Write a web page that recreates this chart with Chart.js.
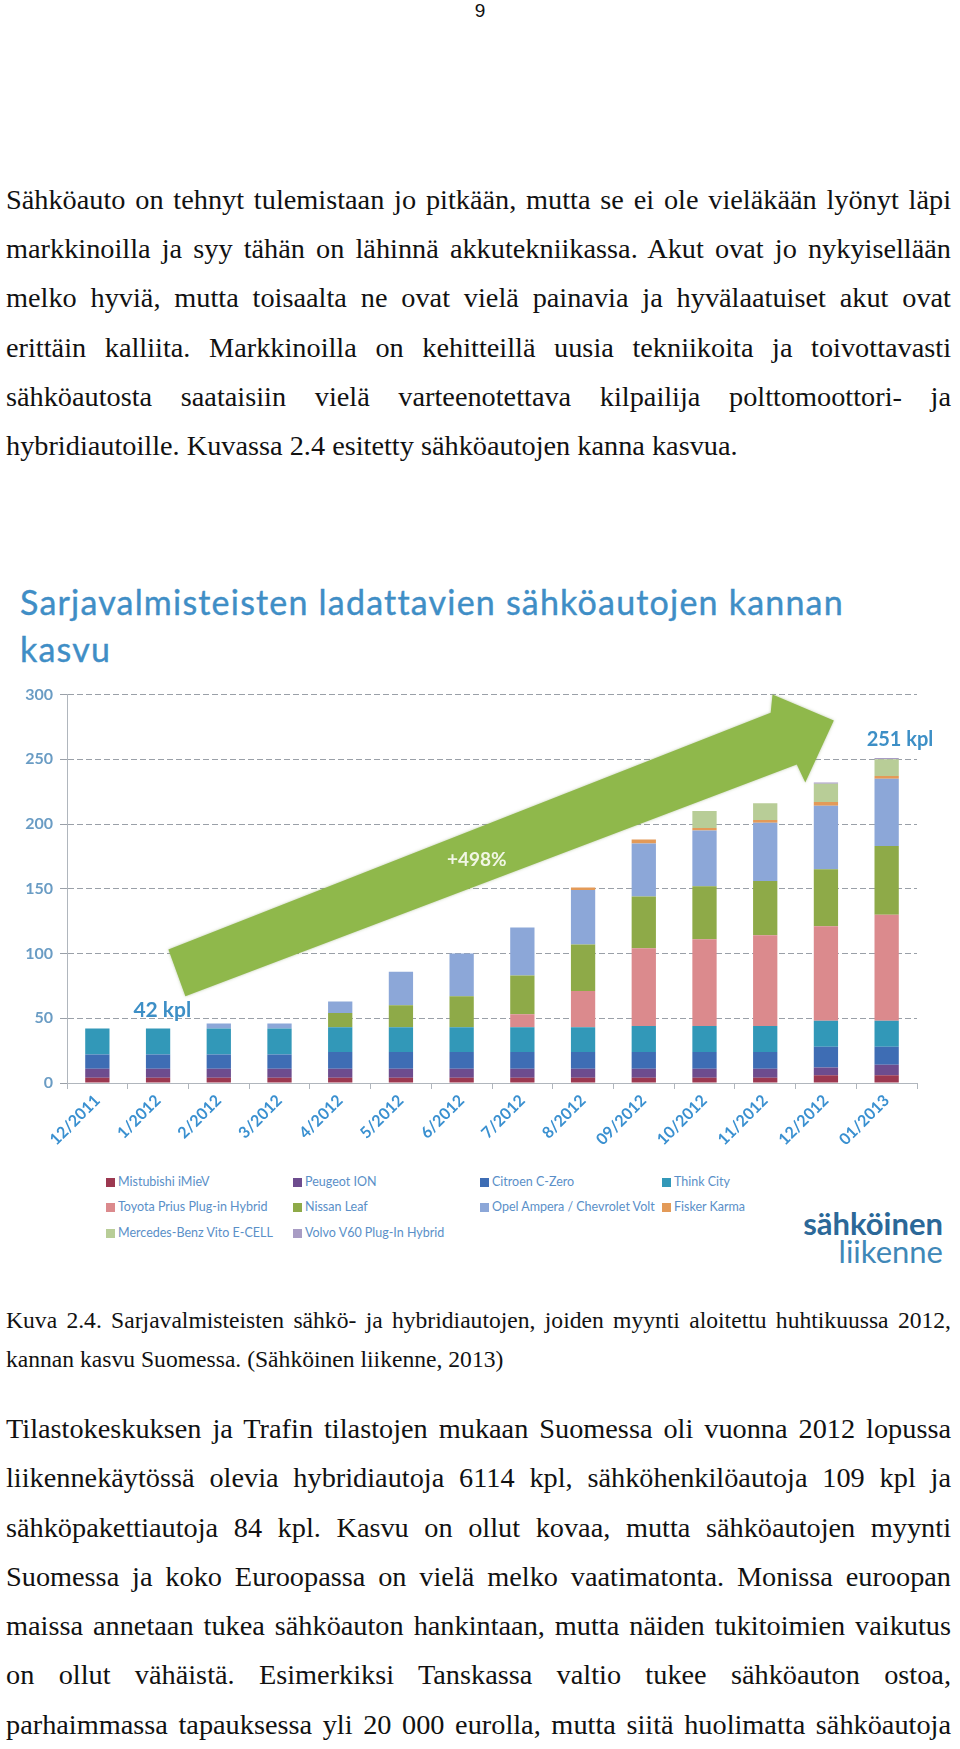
<!DOCTYPE html>
<html lang="fi">
<head>
<meta charset="utf-8">
<script src="https://cdn.jsdelivr.net/npm/chart.js@4.4.1/dist/chart.umd.min.js"></script>
<style>
  body { margin:0; background:#fff; width:960px; height:1749px; position:relative; overflow:hidden; }
  .page { position:absolute; left:0; top:0; width:960px; height:1749px; }
  .pno { position:absolute; top:0; left:0; width:960px; text-align:center; font-family:"Liberation Sans", sans-serif; font-size:19px; color:#111; }
  .txt { position:absolute; left:6px; width:945px; font-family:"Liberation Serif", serif; color:#111; }
  .txt div { text-align:justify; text-align-last:justify; }
  .txt div.last { text-align-last:left; }
  .p1 { top:175px; font-size:28.3px; line-height:49.2px; }
  .cap { top:1301px; font-size:23.6px; line-height:39px; }
  .p2 { top:1404px; font-size:28.3px; line-height:49.3px; }
  .ctitle { position:absolute; left:20px; top:578px; font-family:Lato, sans-serif; font-size:34px; letter-spacing:1.2px; line-height:47px; color:#3f8ec6; -webkit-text-stroke:0.4px #3f8ec6; }
  #wrap { position:absolute; left:0; top:670px; width:960px; height:500px; }
  #legend { position:absolute; left:0; top:1170px; width:960px; height:80px; font-family:Lato, sans-serif; font-size:12.5px; color:#5a8fc8; }
  #legend span.item { position:absolute; white-space:nowrap; line-height:14px; }
  #legend i { display:inline-block; width:9px; height:9px; margin-right:3px; vertical-align:-1px; }
  .logo { position:absolute; right:17px; top:1209px; text-align:right; font-family:Lato, sans-serif; line-height:28px; }
  .logo b { display:block; font-size:31px; color:#2c6898; }
  .logo span { display:block; font-size:31px; color:#3f88b8; }
</style>
</head>
<body>
<div class="page">
  <div class="pno">9</div>

  <div class="txt p1">
    <div>Sähköauto on tehnyt tulemistaan jo pitkään, mutta se ei ole vieläkään lyönyt läpi</div>
    <div>markkinoilla ja syy tähän on lähinnä akkutekniikassa. Akut ovat jo nykyisellään</div>
    <div>melko hyviä, mutta toisaalta ne ovat vielä painavia ja hyvälaatuiset akut ovat</div>
    <div>erittäin kalliita. Markkinoilla on kehitteillä uusia tekniikoita ja toivottavasti</div>
    <div>sähköautosta saataisiin vielä varteenotettava kilpailija polttomoottori- ja</div>
    <div class="last">hybridiautoille. Kuvassa 2.4 esitetty sähköautojen kanna kasvua.</div>
  </div>

  <div class="ctitle">Sarjavalmisteisten ladattavien sähköautojen kannan<br>kasvu</div>
  <div id="wrap"><canvas id="chart"></canvas></div>
  <div id="legend"></div>
  <div class="logo"><b>sähköinen</b><span>liikenne</span></div>

  <div class="txt cap">
    <div>Kuva 2.4. Sarjavalmisteisten sähkö- ja hybridiautojen, joiden myynti aloitettu huhtikuussa 2012,</div>
    <div class="last">kannan kasvu Suomessa. (Sähköinen liikenne, 2013)</div>
  </div>

  <div class="txt p2">
    <div>Tilastokeskuksen ja Trafin tilastojen mukaan Suomessa oli vuonna 2012 lopussa</div>
    <div>liikennekäytössä olevia hybridiautoja 6114 kpl, sähköhenkilöautoja 109 kpl ja</div>
    <div>sähköpakettiautoja 84 kpl. Kasvu on ollut kovaa, mutta sähköautojen myynti</div>
    <div>Suomessa ja koko Euroopassa on vielä melko vaatimatonta. Monissa euroopan</div>
    <div>maissa annetaan tukea sähköauton hankintaan, mutta näiden tukitoimien vaikutus</div>
    <div>on ollut vähäistä. Esimerkiksi Tanskassa valtio tukee sähköauton ostoa,</div>
    <div>parhaimmassa tapauksessa yli 20 000 eurolla, mutta siitä huolimatta sähköautoja</div>
  </div>
</div>

<script>
const months = ["12/2011","1/2012","2/2012","3/2012","4/2012","5/2012","6/2012",
                "7/2012","8/2012","09/2012","10/2012","11/2012","12/2012","01/2013"];
const yTicks = [0, 50, 100, 150, 200, 250, 300];

// kpl per malli, alhaalta ylös
const mitsubishi = [4,4,4,4,4,4,4,4,4,4,4,4,6,6];
const peugeot    = [7,7,7,7,7,7,7,7,7,7,7,7,6,8];
const citroen    = [11,11,11,11,13,13,13,13,13,13,13,13,16,14];
const thinkCity  = [20,20,20,20,19,19,19,19,19,20,20,20,20,20];
const toyota     = [0,0,0,0,0,0,0,10,28,60,67,70,73,82];
const nissan     = [0,0,0,0,11,17,24,30,36,40,41,42,44,53];
const opel       = [0,0,4,4,9,26,33,37,42,41,43,45,49,52];
const fisker     = [0,0,0,0,0,0,0,0,2,3,2,2,3,2];
const mercedes   = [0,0,0,0,0,0,0,0,0,0,13,13,14,13];
const volvo      = [0,0,0,0,0,0,0,0,0,0,0,0,1,1];

const seriesNames = ["Mistubishi iMieV","Peugeot ION","Citroen C-Zero","Think City",
  "Toyota Prius Plug-in Hybrid","Nissan Leaf","Opel Ampera / Chevrolet Volt","Fisker Karma",
  "Mercedes-Benz Vito E-CELL","Volvo V60 Plug-In Hybrid"];
const seriesData = [mitsubishi, peugeot, citroen, thinkCity, toyota, nissan, opel, fisker, mercedes, volvo];
const seriesColors = ["#9c3850","#6d4c8e","#3e6db4","#3298b8","#db8a8d","#8eaa48","#8ca7d8","#e39a58","#b8cd97","#a89cc4"];

// nuoli ja tekstit, koordinaatit (kategoria-indeksi, arvo)
const arrowPts = [[1.17,103],[11.09,286],[11.12,300],[12.13,280],[11.66,232],[11.52,246],[1.45,67]];
const notes = [
  { text: "42 kpl",  at: [1.07, 56],  font: "bold 21px Lato", color: "#3d8fc6" },
  { text: "251 kpl", at: [13.22, 265], font: "bold 20px Lato", color: "#3d8fc6" },
  { text: "+498%",   at: [6.25, 172], font: "bold 19px Lato", color: "#f1f6e4" }
];

const annot = {
  id: 'annot',
  afterDatasetsDraw(chart) {
    const { ctx, scales: { x, y } } = chart;
    ctx.save();
    ctx.beginPath();
    arrowPts.forEach((p, i) => {
      const px = x.getPixelForValue(p[0]), py = y.getPixelForValue(p[1]);
      if (i === 0) ctx.moveTo(px, py); else ctx.lineTo(px, py);
    });
    ctx.closePath();
    ctx.fillStyle = "#8fb84b";
    ctx.shadowColor = "rgba(120,150,80,0.5)";
    ctx.shadowBlur = 3;
    ctx.fill();
    ctx.shadowBlur = 0;
    ctx.textAlign = "center";
    ctx.textBaseline = "middle";
    notes.forEach(n => {
      ctx.font = n.font;
      ctx.fillStyle = n.color;
      ctx.fillText(n.text, x.getPixelForValue(n.at[0]), y.getPixelForValue(n.at[1]));
    });
    ctx.restore();
  }
};

const chart = new Chart(document.getElementById("chart"), {
  type: 'bar',
  data: {
    labels: months,
    datasets: seriesData.map((d, i) => ({
      label: seriesNames[i],
      data: d,
      backgroundColor: seriesColors[i],
      borderWidth: 0,
      categoryPercentage: 1,
      barPercentage: 0.4
    }))
  },
  options: {
    responsive: true,
    maintainAspectRatio: false,
    animation: false,
    layout: { padding: { top: 24.5, right: 43, left: 0, bottom: 0 } },
    plugins: { legend: { display: false }, tooltip: { enabled: false }, title: { display: false } },
    scales: {
      x: {
        stacked: true,
        afterFit: s => { s.height = 87; },
        grid: { drawOnChartArea: false, drawTicks: true, tickLength: 6, color: "#b0b6bd" },
        border: { display: true, color: "#b0b6bd", width: 1 },
        ticks: {
          color: "#3a90d0", font: { family: "Lato", size: 16, weight: "bold" },
          minRotation: 45, maxRotation: 45, padding: 2
        }
      },
      y: {
        stacked: true,
        min: 0, max: 300,
        afterFit: s => { s.width = 67; },
        afterBuildTicks: s => { s.ticks = yTicks.map(v => ({ value: v })); },
        grid: { color: "#9aa0a8", lineWidth: 1, tickLength: 7 },
        border: { display: true, color: "#b0b6bd", dash: [6, 3] },
        ticks: { color: "#6a9cc4", font: { family: "Lato", size: 16, weight: "bold" }, padding: 7 }
      }
    }
  },
  plugins: [annot]
});

// selite neljään sarakkeeseen
const legCols = [106, 293, 480, 662];
const legRows = [5, 30, 56];
const leg = document.getElementById("legend");
seriesNames.forEach((name, i) => {
  const s = document.createElement("span");
  s.className = "item";
  s.style.left = legCols[i % 4] + "px";
  s.style.top = legRows[Math.floor(i / 4)] + "px";
  s.innerHTML = `<i style="background:${seriesColors[i]}"></i>${name}`;
  leg.appendChild(s);
});
</script>
</body>
</html>
